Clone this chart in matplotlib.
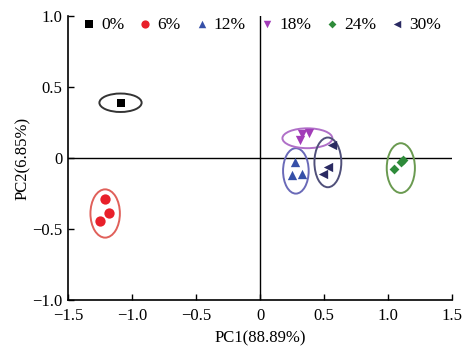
import matplotlib
matplotlib.use("Agg")
import matplotlib.pyplot as plt
from matplotlib.patches import Ellipse

plt.rcParams['font.family'] = ['Liberation Serif', 'DejaVu Serif']

# groups and their PCA scores
groups = ["0%", "6%", "12%", "18%", "24%", "30%"]
pc1 = [
    [-1.09, -1.09, -1.09],
    [-1.21, -1.18, -1.25],
    [0.27, 0.25, 0.33],
    [0.33, 0.38, 0.31],
    [1.12, 1.10, 1.05],
    [0.56, 0.53, 0.49],
]
pc2 = [
    [0.39, 0.39, 0.39],
    [-0.29, -0.39, -0.44],
    [-0.03, -0.12, -0.11],
    [0.17, 0.18, 0.13],
    [-0.01, -0.03, -0.08],
    [0.09, -0.06, -0.11],
]
# confidence ellipses: centre x, centre y, width, height
ell_x = [-1.09, -1.21, 0.28, 0.37, 1.10, 0.53]
ell_y = [0.39, -0.39, -0.09, 0.14, -0.07, -0.03]
ell_w = [0.33, 0.23, 0.20, 0.39, 0.22, 0.21]
ell_h = [0.13, 0.34, 0.32, 0.14, 0.35, 0.35]

markers = ["s", "o", "^", "v", "D", "<"]
colors = ["#000000", "#e8202a", "#3650a8", "#a23cb8", "#2e8b3a", "#2a2a62"]
edge_colors = ["#333333", "#e0605a", "#6a6ab8", "#b070c8", "#6a9a50", "#50507a"]
sizes = [40, 55, 45, 45, 25, 45]

fig = plt.figure(figsize=(4.66, 3.51), dpi=100)
ax = fig.add_axes([0.146, 0.145, 0.824, 0.809])

ax.axhline(0, color="black", lw=1.0, zorder=1)
ax.axvline(0, color="black", lw=1.0, zorder=1)

for i in range(len(groups)):
    ax.scatter(pc1[i], pc2[i], marker=markers[i], color=colors[i], s=sizes[i],
               label=groups[i], zorder=3, linewidths=0)
    e = Ellipse((ell_x[i], ell_y[i]), ell_w[i], ell_h[i], fill=False,
                edgecolor=edge_colors[i], lw=1.4, zorder=2)
    ax.add_patch(e)

ax.set_xlim(-1.5, 1.5)
ax.set_ylim(-1.0, 1.0)
xt = [-1.5, -1.0, -0.5, 0, 0.5, 1.0, 1.5]
yt = [-1.0, -0.5, 0, 0.5, 1.0]
ax.set_xticks(xt)
ax.set_xticklabels(["\u22121.5", "\u22121.0", "\u22120.5", "0", "0.5", "1.0", "1.5"])
ax.set_yticks(yt)
ax.set_yticklabels(["\u22121.0", "\u22120.5", "0", "0.5", "1.0"])
ax.tick_params(direction="in", length=4, width=1, labelsize=12)
ax.tick_params(axis="x", pad=6)
ax.tick_params(axis="y", pad=4)

for s in ["top", "right"]:
    ax.spines[s].set_visible(False)
for s in ["left", "bottom"]:
    ax.spines[s].set_linewidth(1.2)

ax.set_xlabel("PC1(88.89%)", fontsize=12, labelpad=4)
ax.set_ylabel("PC2(6.85%)", fontsize=12, labelpad=1)

ax.legend(loc="upper left", ncol=6, frameon=False, fontsize=12.5,
          handlelength=0.8, handletextpad=0.3, columnspacing=0.8,
          markerscale=0.8, bbox_to_anchor=(0.01, 1.035), borderaxespad=0.2,
          scatterpoints=1)

fig.savefig("out.png", dpi=100)
